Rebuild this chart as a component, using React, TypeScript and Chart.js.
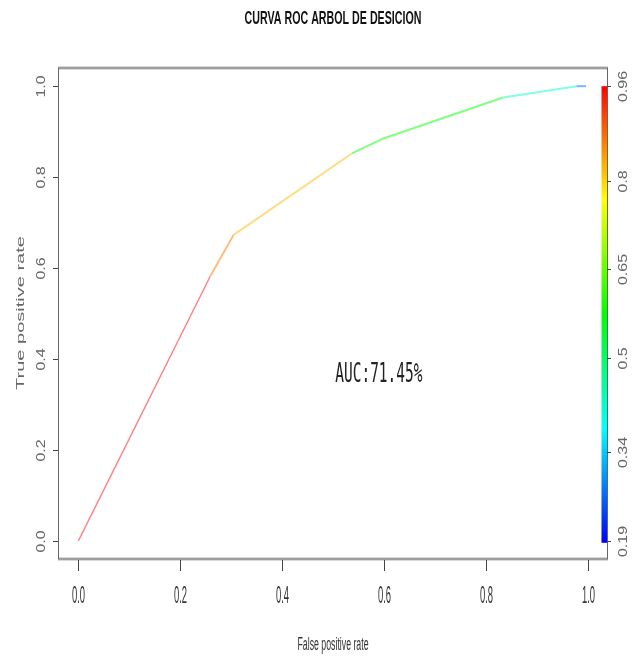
import React, { useEffect, useRef } from "react";
import { Chart, registerables } from "chart.js";
Chart.register(...registerables);

// ---- data ----
const fpr = [0, 0.259, 0.305, 0.537, 0.599, 0.834, 0.978, 0.997];
const tpr = [0, 0.582, 0.673, 0.852, 0.885, 0.975, 1.0, 1.0];
// cutoff (threshold) that colours each segment between consecutive points
const segmentCutoffs = [0.96, 0.865, 0.82, 0.575, 0.575, 0.42, 0.27];
const xTicks = [0, 0.2, 0.4, 0.6, 0.8, 1.0];
const xTickLabels = ["0.0", "0.2", "0.4", "0.6", "0.8", "1.0"];
const yTicks = [0, 0.2, 0.4, 0.6, 0.8, 1.0];
const yTickLabels = ["0.0", "0.2", "0.4", "0.6", "0.8", "1.0"];
const cbTicks = [0.19, 0.34, 0.5, 0.65, 0.8, 0.96];
const cbTickLabels = ["0.19", "0.34", "0.5", "0.65", "0.8", "0.96"];
const cutoffMin = 0.19;
const cutoffMax = 0.96;
const titleText = "CURVA ROC ARBOL DE DESICION";
const xTitle = "False positive rate";
const yTitle = "True positive rate";
const aucLabel = "AUC:71.45%";
const aucX = 0.59;
const aucY = 0.365;

const SANS = "'Liberation Sans', Arial, sans-serif";
const MONO = "'DejaVu Sans Mono', 'Liberation Mono', monospace";

function hueFor(c: number) {
  return (240 * (cutoffMax - c)) / (cutoffMax - cutoffMin);
}
const segColors = segmentCutoffs.map((c) => `hsl(${hueFor(c)}, 100%, 75%)`);

function drawText(
  ctx: CanvasRenderingContext2D,
  s: string,
  x: number,
  y: number,
  font: string,
  color: string,
  opts: { sx?: number; width?: number; rotate?: boolean; baseline?: CanvasTextBaseline } = {}
) {
  ctx.save();
  ctx.font = font;
  ctx.fillStyle = color;
  ctx.textAlign = "center";
  ctx.textBaseline = opts.baseline || "middle";
  let sx = opts.sx ?? 1;
  if (opts.width) sx = opts.width / ctx.measureText(s).width;
  ctx.translate(x, y);
  ctx.scale(sx, 1);
  if (opts.rotate) ctx.rotate(-Math.PI / 2);
  ctx.fillText(s, 0, 0);
  ctx.restore();
}

const decoPlugin = {
  id: "deco",
  afterDraw(chart: any) {
    const ctx: CanvasRenderingContext2D = chart.ctx;
    const xs = chart.scales.x;
    const ys = chart.scales.y;
    const a = chart.chartArea;
    const cx = (a.left + a.right) / 2;

    // title
    drawText(ctx, titleText, cx, 19, `bold 18px ${SANS}`, "#111", { width: 177 });

    // box
    ctx.save();
    ctx.strokeStyle = "#b4b4b4";
    ctx.lineWidth = 3;
    ctx.beginPath();
    ctx.moveTo(a.left, a.top);
    ctx.lineTo(a.right, a.top);
    ctx.moveTo(a.left, a.bottom);
    ctx.lineTo(a.right, a.bottom);
    ctx.stroke();
    ctx.strokeStyle = "#888";
    ctx.lineWidth = 1;
    ctx.beginPath();
    ctx.moveTo(a.left, a.top);
    ctx.lineTo(a.right, a.top);
    ctx.moveTo(a.left, a.bottom);
    ctx.lineTo(a.right, a.bottom);
    ctx.stroke();
    ctx.strokeStyle = "#666";
    ctx.beginPath();
    ctx.moveTo(Math.round(a.left) + 0.5, a.top);
    ctx.lineTo(Math.round(a.left) + 0.5, a.bottom);
    ctx.moveTo(Math.round(a.right) - 0.5, a.top);
    ctx.lineTo(Math.round(a.right) - 0.5, a.bottom);
    ctx.stroke();

    // x ticks
    ctx.strokeStyle = "#444";
    ctx.lineWidth = 1;
    xTicks.forEach((v, i) => {
      const px = Math.round(xs.getPixelForValue(v)) + 0.5;
      ctx.beginPath();
      ctx.moveTo(px, a.bottom + 1);
      ctx.lineTo(px, a.bottom + 12);
      ctx.stroke();
      drawText(ctx, xTickLabels[i], px, 597, `23px ${SANS}`, "#333", { sx: 0.41 });
    });

    // y ticks
    yTicks.forEach((v, i) => {
      const py = Math.round(ys.getPixelForValue(v)) + 0.5;
      ctx.beginPath();
      ctx.moveTo(a.left - 5, py);
      ctx.lineTo(a.left, py);
      ctx.stroke();
      drawText(ctx, yTickLabels[i], 42, py, `16px ${SANS}`, "#666", { sx: 0.78, rotate: true });
    });

    // axis titles
    drawText(ctx, xTitle, cx, 645, `18px ${SANS}`, "#333", { width: 71 });
    drawText(ctx, yTitle, 21, 313, `20px ${SANS}`, "#666", { sx: 0.55, rotate: true });

    // colour bar
    const y1 = ys.getPixelForValue(1);
    const y0 = ys.getPixelForValue(0);
    const barTop = y1;
    const barBot = y0 + 2;
    const grad = ctx.createLinearGradient(0, barTop, 0, barBot);
    [0, 60, 120, 180, 240].forEach((h, i) => grad.addColorStop(i / 4, `hsl(${h},100%,50%)`));
    ctx.fillStyle = grad;
    ctx.fillRect(a.right - 6.5, barTop, 5.5, barBot - barTop);
    cbTicks.forEach((v, i) => {
      const frac = (v - cutoffMin) / (cutoffMax - cutoffMin);
      const py = Math.round(y0 + frac * (y1 - y0)) + 0.5;
      ctx.strokeStyle = "#444";
      ctx.beginPath();
      ctx.moveTo(a.right - 1, py);
      ctx.lineTo(a.right + 3, py);
      ctx.stroke();
      drawText(ctx, cbTickLabels[i], 623.5, py, `16px ${SANS}`, "#666", { sx: 0.78, rotate: true });
    });

    // AUC label
    drawText(
      ctx,
      aucLabel,
      xs.getPixelForValue(aucX),
      ys.getPixelForValue(aucY),
      `27px ${MONO}`,
      "#222",
      { width: 87 }
    );
    ctx.restore();
  },
};

export default function App() {
  const ref = useRef<HTMLCanvasElement>(null);
  useEffect(() => {
    if (!ref.current) return;
    const chart = new Chart(ref.current, {
      type: "line",
      data: {
        datasets: [
          {
            data: fpr.map((x, i) => ({ x, y: tpr[i] })),
            borderColor: segColors[0],
            borderWidth: 1.6,
            pointRadius: 0,
            tension: 0,
            fill: false,
            segment: {
              borderColor: (c: any) => segColors[c.p0DataIndex],
              borderWidth: (c: any) => (c.p0DataIndex === 0 ? 1.4 : 2),
            },
          } as any,
        ],
      },
      options: {
        responsive: false,
        maintainAspectRatio: false,
        devicePixelRatio: 1,
        animation: false,
        layout: { padding: { left: 58, right: 28, top: 68, bottom: 99 } },
        scales: {
          x: { type: "linear", min: -0.04, max: 1.04, display: false },
          y: { type: "linear", min: -0.04, max: 1.04, display: false },
        },
        plugins: {
          legend: { display: false },
          tooltip: { enabled: false },
          title: { display: false },
        },
      },
      plugins: [decoPlugin],
    });
    return () => chart.destroy();
  }, []);
  return (
    <div style={{ position: "fixed", left: 0, top: 0, width: 636, height: 658, background: "#fff" }}>
      <canvas ref={ref} width={636} height={658} style={{ display: "block" }} />
    </div>
  );
}
